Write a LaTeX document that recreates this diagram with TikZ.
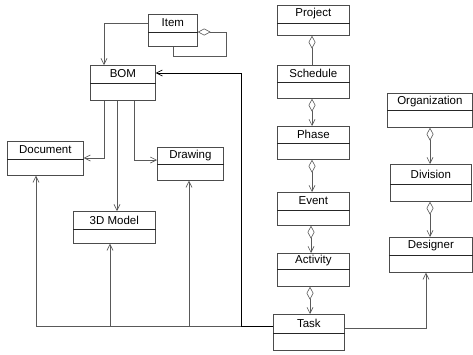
\documentclass[tikz,border=0pt]{standalone}
\usepackage{fontspec}
\setmainfont{Liberation Sans}
\usetikzlibrary{arrows.meta,calc}

\tikzset{
  x=1pt, y=-1pt,
  cls/.style={draw=black!70, line width=0.7pt, rectangle, inner sep=0pt, anchor=north west},
  divl/.style={draw=black!85, line width=1pt},
  lbl/.style={font=\fontsize{11.5}{13}\selectfont, inner sep=0pt},
  link/.style={draw=black!65, line width=0.7pt},
  thick link/.style={draw=black, line width=1pt},
  dep/.style={-{Straight Barb[length=6pt,width=6pt,line width=0.6pt]}},
  agg/.style={{Diamond[open,length=13pt,width=7pt,line width=0.6pt]}-},
  aggdep/.style={{Diamond[open,length=13pt,width=7pt,line width=0.6pt]}-{Straight Barb[length=6pt,width=6pt,line width=0.6pt]}},
}

% class box: name, left, top, width, height, header height, title
\newcommand\umlclass[7]{%
  \node[cls, minimum width=#4pt, minimum height=#5pt] (#1) at (#2,#3) {};
  \draw[divl] ([yshift=-#6pt]#1.north west) -- ([yshift=-#6pt]#1.north east);
  \node[lbl] at ($(#1.north)!0.5!([yshift=-#6pt]#1.north)$) {#7};
}

\begin{document}
\begin{tikzpicture}
\useasboundingbox[fill=white] (0,0) rectangle (473,354);

% classes
\umlclass{item}{148}{14}{49}{32}{18}{Item}
\umlclass{bom}{90}{65}{65}{35}{18}{BOM}
\umlclass{document}{7}{141}{76}{34}{18}{Document}
\umlclass{drawing}{157}{147}{66}{33}{17}{Drawing}
\umlclass{model}{73}{211}{82}{32}{18}{3D Model}
\umlclass{project}{277}{5}{72}{30}{18}{Project}
\umlclass{schedule}{277}{65}{72}{33}{17}{Schedule}
\umlclass{phase}{277}{126}{72}{33}{17}{Phase}
\umlclass{event}{277}{192}{72}{33}{18}{Event}
\umlclass{activity}{277}{253}{72}{33}{16}{Activity}
\umlclass{task}{273}{314}{71}{36}{19}{Task}
\umlclass{org}{387}{93}{85}{34}{17}{Organization}
\umlclass{division}{390}{164}{81}{37}{20}{Division}
\umlclass{designer}{389}{237}{83}{35}{18}{Designer}

% Item relations
\draw[link, dep] (item.west |- 0,23) -| (bom.north -| 104,0);
\coordinate (selfA) at (226,32);
\coordinate (selfB) at (173,56);
\draw[link, agg] (item.east |- 0,32) -- (selfA) |- (selfB) -- (item.south -| selfB);

% BOM dependencies
\draw[link, dep] (bom.south -| 104,0) |- (document.east |- 0,158);
\draw[link, dep] (bom.south -| 117,0) -- (model.north -| 117,0);
\draw[link, dep] (bom.south -| 134,0) |- (drawing.west |- 0,160);

% Task dependencies
\coordinate (bend) at (241,326);
\draw[thick link, dep] (task.west |- bend) -- (bend) |- (bom.east |- 0,73);
\draw[thick link] (task.west |- bend) -- (110,326);
\draw[link, dep] (bend) -| (document.south -| 36,0);
\draw[link, dep] (model.south -| 110,0) ++(0,83) -- (model.south -| 110,0);
\draw[link, dep] (drawing.south -| 189,0) ++(0,146) -- (drawing.south -| 189,0);
\draw[link, dep] (task.east |- 0,328) -| (designer.south -| 426,0);

% project hierarchy
\draw[link, agg] (project.south -| 312,0) -- (schedule.north -| 312,0);
\draw[link, aggdep] (schedule.south -| 312,0) -- (phase.north -| 312,0);
\draw[link, aggdep] (phase.south -| 312,0) -- (event.north -| 312,0);
\draw[link, aggdep] (event.south -| 311,0) -- (activity.north -| 311,0);
\draw[link, aggdep] (activity.south -| 310,0) -- (task.north -| 310,0);

% organization hierarchy
\draw[link, aggdep] (org.south -| 430,0) -- (division.north -| 430,0);
\draw[link, aggdep] (division.south -| 430,0) -- (designer.north -| 430,0);
\end{tikzpicture}
\end{document}
